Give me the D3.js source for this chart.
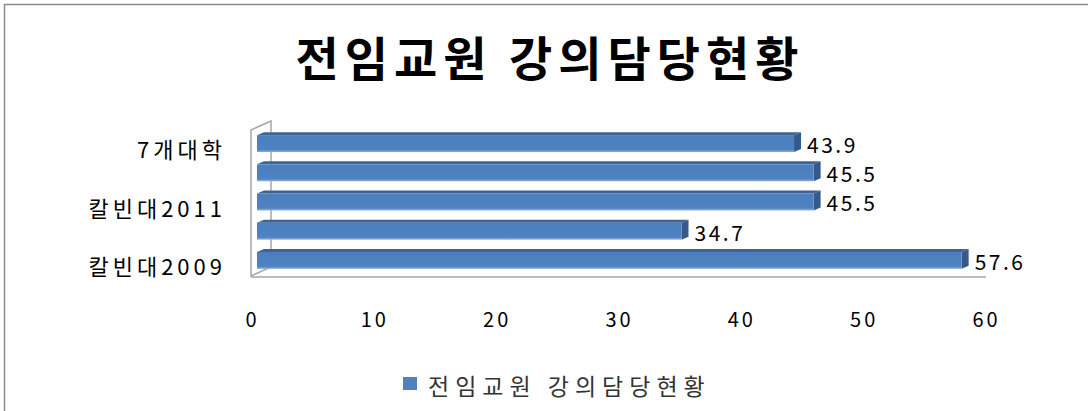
<!DOCTYPE html>
<html>
<head>
<meta charset="utf-8">
<script src="https://cdn.jsdelivr.net/npm/d3@7"></script>
<style>
  body { margin: 0; background: #fff; }
  text { font-family: "Noto Sans CJK KR", "DejaVu Sans", sans-serif; }
</style>
</head>
<body>
<div class="d3Chart"></div>
<script>
// 데이터 (아래에서 위로)
var categories = ["칼빈대2009", "칼빈대2010", "칼빈대2011", "칼빈대2012", "7개대학"];
var values = [57.6, 34.7, 45.5, 45.5, 43.9];
var shownLabels = ["칼빈대2009", "칼빈대2011", "7개대학"];
var xTicks = [0, 10, 20, 30, 40, 50, 60];
var title = "전임교원 강의담당현황";
var seriesName = "전임교원 강의담당현황";

var width = 1088;
var height = 411;

var svg = d3
  .select(".d3Chart")
  .append("svg")
  .attr("width", width)
  .attr("height", height);

// 바깥 테두리
svg
  .append("rect")
  .attr("x", 4.5)
  .attr("y", 4.5)
  .attr("width", width + 20)
  .attr("height", height + 20)
  .attr("fill", "none")
  .attr("stroke", "#8c8c8c")
  .attr("stroke-width", 1.5);

// 제목
svg
  .append("text")
  .attr("x", 550)
  .attr("y", 76)
  .attr("text-anchor", "middle")
  .attr("font-size", 47)
  .attr("font-weight", "bold")
  .attr("letter-spacing", 6)
  .attr("fill", "#000")
  .text(title);

// 비율척도
var x = d3.scaleLinear().domain([0, 60]).range([251, 985]);
var y = d3
  .scaleBand()
  .domain(categories.slice().reverse())
  .range([130, 276])
  .paddingInner(0.42)
  .paddingOuter(0.21);

// 3D 깊이
var wallDepth = [20, -9];
var barOffset = [6, -3];
var barDepth = [7, -3];

// 왼쪽 벽
var wall = svg.append("g").attr("fill", "#fff").attr("stroke", "#a6a6a6").attr("stroke-width", 1.5);
wall
  .append("path")
  .attr(
    "d",
    d3.line()([
      [x(0), y.range()[0]],
      [x(0) + wallDepth[0], y.range()[0] + wallDepth[1]],
      [x(0) + wallDepth[0], y.range()[1] + wallDepth[1]],
      [x(0), y.range()[1]],
    ]) + "Z"
  );

// 바닥 선
svg
  .append("line")
  .attr("x1", x(0))
  .attr("x2", x(60) + 1)
  .attr("y1", y.range()[1] + 1)
  .attr("y2", y.range()[1] + 1)
  .attr("stroke", "#a6a6a6")
  .attr("stroke-width", 1.5);

// 그라데이션
var defs = svg.append("defs");
var grad = defs
  .append("linearGradient")
  .attr("id", "face")
  .attr("x1", 0)
  .attr("y1", 0)
  .attr("x2", 0)
  .attr("y2", 1);
grad.append("stop").attr("offset", "0%").attr("stop-color", "#4a7ebd");
grad.append("stop").attr("offset", "85%").attr("stop-color", "#4f82c0");
grad.append("stop").attr("offset", "100%").attr("stop-color", "#8fb0da");

var data = categories.map((c, i) => ({ label: c, value: values[i] }));
var bars = svg.append("g").attr("class", "bars");

data.forEach(function (d) {
  var x0 = x(0) + barOffset[0];
  var x1 = x(d.value) + barOffset[0];
  var y0 = y(d.label) + barOffset[1] + 2;
  var h = y.bandwidth();
  var g = bars.append("g");
  // 윗면
  g.append("path")
    .attr("fill", "#3c6496")
    .attr(
      "d",
      d3.line()([
        [x0, y0],
        [x0 + barDepth[0], y0 + barDepth[1]],
        [x1 + barDepth[0], y0 + barDepth[1]],
        [x1, y0],
      ]) + "Z"
    );
  // 옆면
  g.append("path")
    .attr("fill", "#34598a")
    .attr(
      "d",
      d3.line()([
        [x1, y0],
        [x1 + barDepth[0], y0 + barDepth[1]],
        [x1 + barDepth[0], y0 + h + barDepth[1]],
        [x1, y0 + h],
      ]) + "Z"
    );
  // 앞면
  g.append("rect")
    .attr("x", x0)
    .attr("y", y0)
    .attr("width", x1 - x0)
    .attr("height", h)
    .attr("fill", "url(#face)");
  // 값
  g.append("text")
    .attr("x", x1 + barDepth[0] + 6)
    .attr("y", y0 + h / 2 + 2)
    .attr("dy", "0.35em")
    .attr("font-family", "DejaVu Sans")
    .attr("font-size", 21)
    .attr("letter-spacing", 2.5)
    .attr("fill", "#000")
    .text(d.value);
});

// 분류 라벨
svg
  .append("g")
  .selectAll("text")
  .data(shownLabels)
  .enter()
  .append("text")
  .attr("x", 226)
  .attr("y", (d) => y(d) + y.bandwidth() / 2 + 6)
  .attr("dy", "0.35em")
  .attr("text-anchor", "end")
  .attr("font-size", 22)
  .attr("letter-spacing", 4)
  .attr("fill", "#000")
  .text((d) => d);

// x축 라벨
svg
  .append("g")
  .selectAll("text")
  .data(xTicks)
  .enter()
  .append("text")
  .attr("x", (d) => x(d) + 1.5)
  .attr("y", 320)
  .attr("dy", "0.35em")
  .attr("text-anchor", "middle")
  .attr("font-family", "DejaVu Sans")
  .attr("font-size", 20)
  .attr("letter-spacing", 3)
  .attr("fill", "#000")
  .text((d) => d);

// 범례
var legend = svg.append("g");
legend
  .append("rect")
  .attr("x", 403)
  .attr("y", 377)
  .attr("width", 14)
  .attr("height", 13)
  .attr("fill", "#4f81bd");
legend
  .append("text")
  .attr("x", 428)
  .attr("y", 387)
  .attr("dy", "0.35em")
  .attr("font-size", 23)
  .attr("letter-spacing", 6)
  .attr("fill", "#333")
  .text(seriesName);
</script>
</body>
</html>
